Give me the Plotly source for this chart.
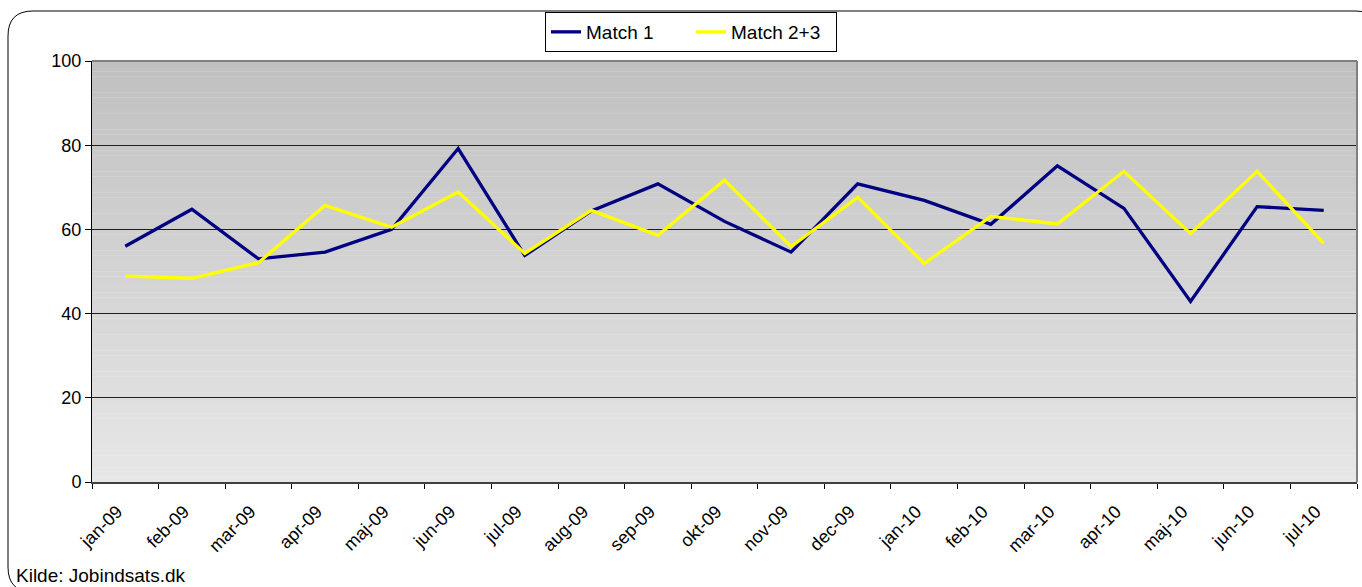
import plotly.graph_objects as go

months = ["jan-09", "feb-09", "mar-09", "apr-09", "maj-09", "jun-09", "jul-09",
          "aug-09", "sep-09", "okt-09", "nov-09", "dec-09", "jan-10", "feb-10",
          "mar-10", "apr-10", "maj-10", "jun-10", "jul-10"]
match1 = [56.0, 64.8, 53.0, 54.6, 60.0, 79.2, 53.8, 64.4, 70.8, 61.9, 54.6, 70.8,
          66.9, 61.2, 75.1, 65.0, 42.9, 65.4, 64.5]
match23 = [48.9, 48.4, 52.1, 65.7, 60.5, 68.9, 54.3, 64.5, 58.6, 71.7, 55.9, 67.6,
           51.9, 63.1, 61.3, 73.8, 59.0, 73.8, 56.7]
y_ticks = [0, 20, 40, 60, 80, 100]
source_text = "Kilde: Jobindsats.dk"

W, H = 1362, 587
ML, MR, MT, MB = 92, 5, 61, 105
PW, PH = W - ML - MR, H - MT - MB

def px(x):
    return (x - ML) / PW

def py(y):
    return (H - MB - y) / PH

FONT = "Arial, Liberation Sans, sans-serif"

fig = go.Figure()
fig.add_trace(go.Scatter(x=months, y=match1, mode="lines", name="Match 1",
                         line=dict(color="#000080", width=3.3)))
fig.add_trace(go.Scatter(x=months, y=match23, mode="lines", name="Match 2+3",
                         line=dict(color="#FFFF00", width=3.3)))

shapes = []
# gradient plot background
N = 80
top = (192, 192, 192)
bot = (231, 231, 231)
for i in range(N):
    t = (i + 0.5) / N  # from bottom
    c = tuple(round(bot[k] + (top[k] - bot[k]) * t) for k in range(3))
    shapes.append(dict(type="rect", xref="paper", yref="paper",
                       x0=0, x1=1, y0=i / N, y1=min(1, (i + 1.05) / N),
                       fillcolor="rgb(%d,%d,%d)" % c, line=dict(width=0),
                       layer="below"))
# plot area top / right border
shapes.append(dict(type="line", xref="paper", yref="paper", x0=0, x1=1, y0=1, y1=1,
                   line=dict(color="#808080", width=2), layer="above"))
shapes.append(dict(type="line", xref="paper", yref="paper", x0=1, x1=1, y0=0, y1=1,
                   line=dict(color="#808080", width=2), layer="above"))

# rounded chart border
bx0, bx1, by0, by1, r = 8, 1380, 11, 592, 25
rx, ry = r / PW, r / PH
X0, X1, Y0, Y1 = px(bx0), px(bx1), py(by0), py(by1)
path = (f"M {X0+rx},{Y0} L {X1-rx},{Y0} Q {X1},{Y0} {X1},{Y0-ry} "
        f"L {X1},{Y1+ry} Q {X1},{Y1} {X1-rx},{Y1} L {X0+rx},{Y1} "
        f"Q {X0},{Y1} {X0},{Y1+ry} L {X0},{Y0-ry} Q {X0},{Y0} {X0+rx},{Y0} Z")
shapes.append(dict(type="path", xref="paper", yref="paper", path=path,
                   line=dict(color="black", width=1), layer="below"))

fig.update_layout(
    width=W, height=H,
    margin=dict(l=ML, r=MR, t=MT, b=MB, autoexpand=False),
    paper_bgcolor="white", plot_bgcolor="rgba(0,0,0,0)",
    font=dict(family=FONT, color="black"),
    shapes=shapes,
    showlegend=True,
    legend=dict(orientation="h", x=px(691), xanchor="center", y=py(12), yanchor="top",
                bgcolor="white", bordercolor="black", borderwidth=1,
                font=dict(size=19, family=FONT), itemwidth=30,
                entrywidth=100, entrywidthmode="pixels",
                tracegroupgap=0),
    xaxis=dict(type="category", range=[-0.5, len(months) - 0.5],
               tickson="boundaries", ticks="outside", ticklen=5,
               tickcolor="black", showline=True, linecolor="#404040", linewidth=2,
               tickangle=-45, tickfont=dict(size=18, family=FONT), showgrid=False,
               ticklabelstandoff=10, ticklabelshift=-8,
               zeroline=False),
    yaxis=dict(range=[0, 100], tickvals=y_ticks, ticks="outside", ticklen=6,
               tickcolor="black", showline=True, linecolor="black", linewidth=1,
               showgrid=True, gridcolor="#202020", gridwidth=1, zeroline=False,
               tickfont=dict(size=18, family=FONT)),
    annotations=[dict(text=source_text, xref="paper", yref="paper",
                      x=px(14), y=py(575), xanchor="left", yanchor="middle",
                      showarrow=False, font=dict(size=19, family=FONT))],
)

fig.write_html("out.html", config={"displayModeBar": False},
               post_script="document.body.style.margin='0';")
